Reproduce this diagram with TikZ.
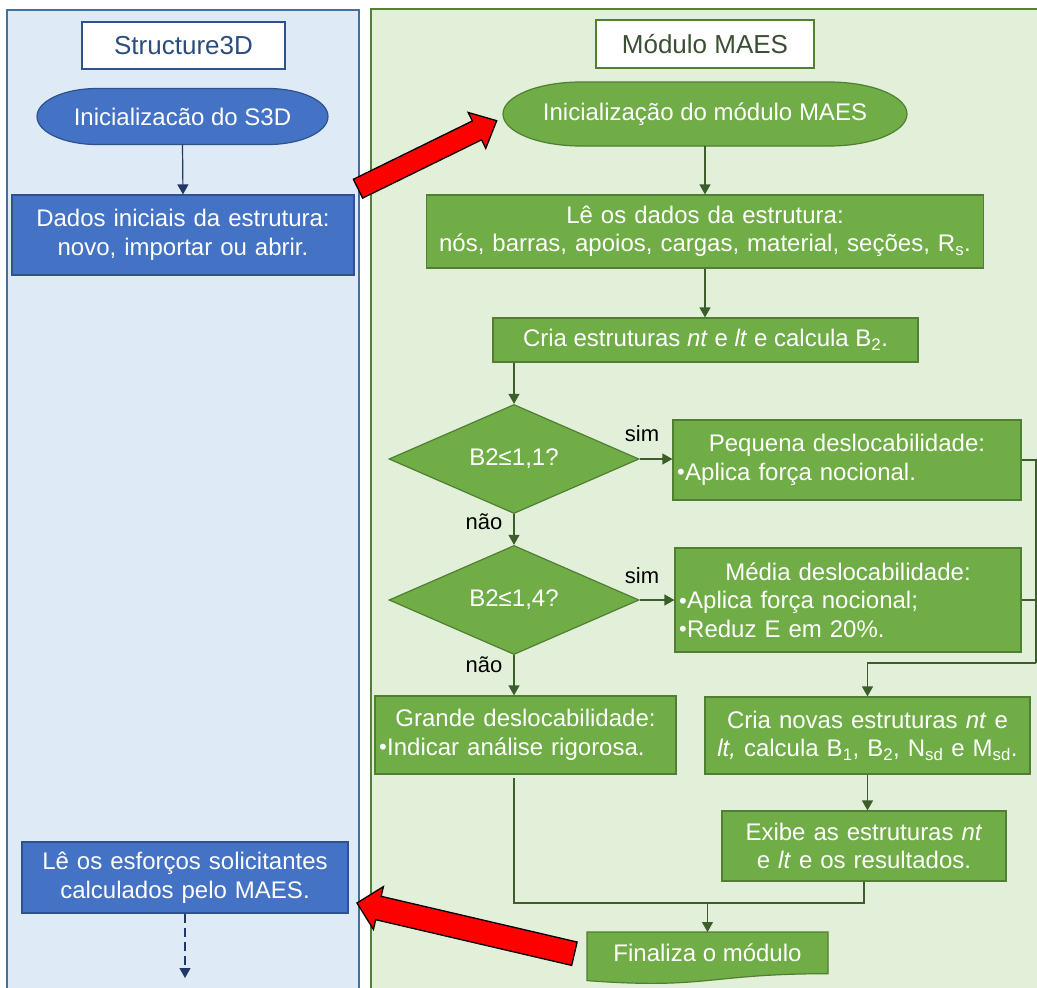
\documentclass[tikz,border=0pt]{standalone}
\usepackage{fontspec}
\setmainfont{Liberation Sans}
\usetikzlibrary{shapes.geometric,arrows.meta,calc}
\pgfdeclarelayer{back}
\pgfdeclarelayer{mid}
\pgfsetlayers{back,mid,main}
\definecolor{bpanel}{HTML}{DEEAF6}
\definecolor{bpanelb}{HTML}{41719C}
\definecolor{bfill}{HTML}{4472C4}
\definecolor{bborder}{HTML}{2F528F}
\definecolor{navy}{HTML}{203864}
\definecolor{btitle}{HTML}{2B4C7E}
\definecolor{gpanel}{HTML}{E2F0D9}
\definecolor{gpanelb}{HTML}{548235}
\definecolor{gfill}{HTML}{70AD47}
\definecolor{gborder}{HTML}{507E32}
\definecolor{gline}{HTML}{3B5E2B}
\definecolor{gtitle}{HTML}{3A4F33}
\definecolor{redar}{HTML}{FF0000}
\newcommand{\fs}{\fontsize{24}{28.5}\selectfont}
\newcommand{\fst}{\fontsize{26}{30}\selectfont}
\newcommand{\fsl}{\fontsize{22}{26}\selectfont}
\newcommand{\bul}{{\fontsize{22}{22}\selectfont\raisebox{0.5pt}{•}}\hspace{0.5pt}}
\newcommand{\bline}[1]{\makebox[\linewidth][l]{\bul#1}}
\newcommand{\blockarrow}[5]{%
  \coordinate (ba-n) at ($(#2)!#5!(#1)$);
  \filldraw[redarrow] ($(#1)!#3!90:(#2)$) -- ($(ba-n)!#3!90:(#2)$) -- ($(ba-n)!#4!90:(#2)$) -- (#2)
    -- ($(ba-n)!#4!-90:(#2)$) -- ($(ba-n)!#3!-90:(#2)$) -- ($(#1)!#3!-90:(#2)$) -- cycle;}
% terminal outline: node name, style, end radius r, (1-k)r, k*halfheight
\newcommand{\terminal}[5]{%
  \begin{pgfonlayer}{mid}
  \filldraw[#2] ([xshift=#3]#1.north west) -- ([xshift=-#3]#1.north east)
    .. controls ([xshift=-#4]#1.north east) and ([yshift=#5]#1.east) .. (#1.east)
    .. controls ([yshift=-#5]#1.east) and ([xshift=-#4]#1.south east) .. ([xshift=-#3]#1.south east)
    -- ([xshift=#3]#1.south west)
    .. controls ([xshift=#4]#1.south west) and ([yshift=-#5]#1.west) .. (#1.west)
    .. controls ([yshift=#5]#1.west) and ([xshift=#4]#1.north west) .. cycle;
  \end{pgfonlayer}}
\begin{document}
\begin{tikzpicture}[x=1pt,y=-1pt,
  bpanelst/.style={draw=bpanelb,fill=bpanel,line width=1.3pt},
  gpanelst/.style={draw=gpanelb,fill=gpanel,line width=1.3pt},
  btitlest/.style={draw=bborder,fill=white,text=btitle,font=\fst,line width=1.2pt,inner sep=0pt},
  gtitlest/.style={draw=gborder,fill=white,text=gtitle,font=\fst,line width=1.2pt,inner sep=0pt},
  bbox/.style={draw=bborder,fill=bfill,text=white,font=\fs,line width=1.2pt,inner sep=0pt,align=center},
  gbox/.style={draw=gborder,fill=gfill,text=white,font=\fs,line width=1.2pt,inner sep=0pt,align=center},
  gdia/.style={gbox,diamond},
  termtext/.style={text=white,font=\fs,inner sep=0pt,outer sep=0pt},
  bshape/.style={draw=bborder,fill=bfill,line width=1.2pt},
  gshape/.style={draw=gborder,fill=gfill,line width=1.2pt},
  barrow/.style={draw=navy,line width=1.2pt,-{Triangle[width=11pt,length=10pt]}},
  garrow/.style={draw=gline,line width=1.2pt,-{Triangle[width=11pt,length=10pt]}},
  glinest/.style={draw=gline,line width=1.2pt},
  lbl/.style={font=\fsl,text=black,inner sep=0pt},
  redarrow/.style={fill=redar,draw=black,line width=1.3pt,line join=miter}
]
\useasboundingbox (0,0) rectangle (1037,988);
\begin{pgfonlayer}{back}
\fill[white] (0,0) rectangle (1037,988);
\draw[bpanelst] (7,10) rectangle (359,1000);
\draw[gpanelst] (371,9) rectangle (1050,1000);
\end{pgfonlayer}

% left column
\node[btitlest,minimum width=203pt,minimum height=47pt] (t1) at (183.5,45.5) {Structure3D};
\node[termtext,minimum width=291pt,minimum height=56pt] (i1) at (182.5,116.5) {Inicializacão do S3D};
\terminal{i1}{bshape}{60pt}{26.9pt}{15.5pt}
\node[bbox,minimum width=342pt,minimum height=80pt,text width=334pt] (dados) at (183,235)
  {Dados iniciais da estrutura:\\ novo, importar ou abrir.};
\node[bbox,minimum width=326pt,minimum height=71pt,text width=318pt] (le1) at (185,877.5)
  {Lê os esforços solicitantes\\ calculados pelo MAES.};
\coordinate (endL) at (185,978);

\draw[barrow] (i1.south) -- (dados.north);
\draw[barrow,dash pattern=on 9pt off 5pt] (le1.south) -- (endL);

% right column
\node[gtitlest,minimum width=218pt,minimum height=48pt] (t2) at (705,44) {Módulo MAES};
\node[termtext,minimum width=404pt,minimum height=64pt] (i2) at (705,114) {Inicialização do módulo MAES};
\terminal{i2}{gshape}{78pt}{34.9pt}{17.7pt}
\node[gbox,minimum width=557pt,minimum height=73pt,text width=549pt] (ld) at (705,231.5)
  {Lê os dados da estrutura:\\ nós, barras, apoios, cargas, material, seções, R\textsubscript{s}.};
\node[gbox,minimum width=425pt,minimum height=44pt] (cria) at (705.5,340)
  {Cria estruturas \textit{nt} e \textit{lt} e calcula B\textsubscript{2}.};
\node[gdia,minimum width=250pt,minimum height=93pt] (d1) at (514,459) {B2≤1,1?};
\node[gbox,minimum width=348pt,minimum height=80pt,text width=340pt] (peq) at (847,460)
  {Pequena deslocabilidade:\\ \bline{Aplica força nocional.}};
\node[gdia,minimum width=250pt,minimum height=93pt] (d2) at (514,600) {B2≤1,4?};
\node[gbox,minimum width=346pt,minimum height=104pt,text width=338pt] (med) at (848,600)
  {Média deslocabilidade:\\ \bline{Aplica força nocional;}\\ \bline{Reduz E em 20\%.}};
\node[gbox,minimum width=301pt,minimum height=78pt,text width=293pt] (gra) at (525.5,735)
  {Grande deslocabilidade:\\ \bline{Indicar análise rigorosa.}};
\node[gbox,minimum width=325pt,minimum height=77pt,text width=317pt] (cn) at (867.5,735.5)
  {Cria novas estruturas \textit{nt} e\\ \textit{lt,} calcula B\textsubscript{1}, B\textsubscript{2}, N\textsubscript{sd} e M\textsubscript{sd}.};
\node[gbox,minimum width=284pt,minimum height=70pt,text width=276pt] (ex) at (864,846)
  {Exibe as estruturas \textit{nt}\\ e \textit{lt} e os resultados.};
% document shape for the final step
\node[termtext,minimum width=241pt,minimum height=42pt] (fin) at (707.5,953) {Finaliza o módulo};
\begin{pgfonlayer}{mid}
\filldraw[gshape] (fin.north west) -- (fin.north east) -- ([yshift=-41.7pt]fin.north east)
  .. controls ([yshift=-41.7pt]fin.north) and ([yshift=-57.6pt]fin.north) .. ([yshift=-48.6pt]fin.north west) -- cycle;
\end{pgfonlayer}

% labels
\node[lbl] (sim1) at (642,434) {sim};
\node[lbl] (sim2) at (642,576) {sim};
\node[lbl] (nao1) at (484,522) {não};
\node[lbl] (nao2) at (484,665) {não};

% connectors
\draw[garrow] (i2.south) -- (ld.north);
\draw[garrow] (ld.south) -- (ld.south |- cria.north);
\draw[garrow] (d1.north |- cria.south) -- (d1.north);
\draw[garrow] (d1.east) -- (d1.east -| peq.west);
\draw[garrow] (d1.south) -- (d2.north);
\draw[garrow] (d2.east) -- (d2.east -| med.west);
\draw[garrow] (d2.south) -- (d2.south |- gra.north);
\coordinate (rj) at (1036,663);
\draw[glinest] (peq.east) -- (peq.east -| rj) -- (rj);
\draw[glinest] (med.east) -- (med.east -| rj);
\draw[garrow] (rj) -- (rj -| cn.north) -- (cn.north);
\draw[garrow] (cn.south) -- (cn.south |- ex.north);
\coordinate (bj) at (700,903);
\draw[glinest] ([yshift=-3pt]gra.south -| d2.south) -- (d2.south |- bj) -- (ex.south |- bj) -- (ex.south);
\draw[garrow] (fin.north |- bj) -- (fin.north);

% red block arrows between the two modules
\coordinate (r1t) at (358,188.7);
\coordinate (r1h) at (496.7,120.7);
\blockarrow{r1t}{r1h}{10.5pt}{20pt}{22pt}
\coordinate (r2t) at (574.4,953.7);
\coordinate (r2h) at (357,903);
\blockarrow{r2t}{r2h}{12pt}{22pt}{22pt}
\end{tikzpicture}
\end{document}
